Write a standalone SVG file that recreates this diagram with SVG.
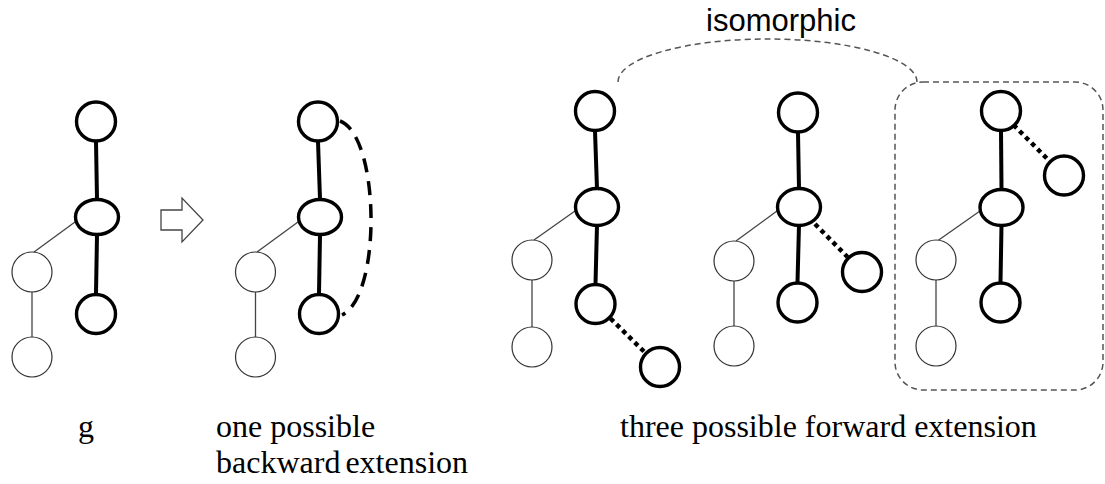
<svg xmlns="http://www.w3.org/2000/svg" width="1105" height="484" viewBox="0 0 1105 484">
  <style>
    .bold { fill: #fff; stroke: #000; stroke-width: 3.4; }
    .thin { fill: #fff; stroke: #333; stroke-width: 1.2; }
    .bedge { stroke: #000; stroke-width: 4; fill: none; }
    .tedge { stroke: #444; stroke-width: 1.3; fill: none; }
    .dotted { stroke: #000; stroke-width: 4.5; stroke-dasharray: 4.5 4; fill: none; }
    .backedge { stroke: #000; stroke-width: 3.5; stroke-dasharray: 14 9; fill: none; }
    .group-line { stroke: #555; stroke-width: 1.5; stroke-dasharray: 6 4; fill: none; }
    .serif { font-family: "Liberation Serif", "Times New Roman", serif; font-size: 32px; fill: #000; }
    .sans { font-family: "Liberation Sans", Arial, sans-serif; font-size: 31px; fill: #000; }
  </style>

  <!-- connectors -->
  <g id="connectors">
    <!-- g -->
    <line class="bedge" x1="96" y1="141.5" x2="97" y2="199"/>
    <line class="bedge" x1="97" y1="235" x2="96" y2="294"/>
    <line class="tedge" x1="75" y1="222" x2="34" y2="252"/>
    <line class="tedge" x1="32" y1="292" x2="32" y2="337"/>

    <!-- backward extension -->
    <line class="bedge" x1="318" y1="141.5" x2="320" y2="199"/>
    <line class="bedge" x1="320" y1="235" x2="319" y2="294"/>
    <line class="tedge" x1="298" y1="222" x2="257" y2="252"/>
    <line class="tedge" x1="255.5" y1="292" x2="255.5" y2="337"/>
    <path class="backedge" d="M 340 121 C 380 136, 382 296, 342 315"/>

    <!-- forward extension 1 -->
    <line class="bedge" x1="595" y1="131" x2="597" y2="189"/>
    <line class="bedge" x1="597" y1="225" x2="595.5" y2="284"/>
    <line class="tedge" x1="575" y1="211" x2="534" y2="240"/>
    <line class="tedge" x1="532" y1="280" x2="532" y2="327"/>
    <line class="dotted" x1="610.5" y1="318.5" x2="645" y2="352.5"/>

    <!-- forward extension 2 -->
    <line class="bedge" x1="798" y1="132.5" x2="799" y2="189"/>
    <line class="bedge" x1="799" y1="225" x2="797.5" y2="282.5"/>
    <line class="tedge" x1="777" y1="211" x2="736" y2="241"/>
    <line class="tedge" x1="734" y1="281" x2="734" y2="326"/>
    <line class="dotted" x1="815" y1="224" x2="847.5" y2="257"/>

    <!-- forward extension 3 -->
    <line class="bedge" x1="1001" y1="131" x2="1001.5" y2="189.5"/>
    <line class="bedge" x1="1001.5" y1="225.5" x2="1000.5" y2="282.5"/>
    <line class="tedge" x1="980" y1="211" x2="938" y2="240.5"/>
    <line class="tedge" x1="936" y1="280" x2="936" y2="326"/>
    <line class="dotted" x1="1013.5" y1="125" x2="1049" y2="160.5"/>

    <!-- isomorphism marker -->
    <path class="group-line" d="M 618 82 A 149.5 43 0 0 1 917 82"/>
    <rect class="group-line" x="895" y="82" width="208" height="308" rx="28" ry="28"/>

    <!-- transformation arrow -->
    <polygon points="161,210 182,210 182,198 203,220 182,242 182,230 161,230" fill="#fff" stroke="#444" stroke-width="1.3"/>
  </g>

  <!-- g -->
  <g id="g-top"><circle class="bold" cx="96" cy="121.5" r="19.5"/></g>
  <g id="g-mid"><ellipse class="bold" cx="97" cy="217" rx="21.5" ry="17.5"/></g>
  <g id="g-bottom"><circle class="bold" cx="96" cy="314" r="19.5"/></g>
  <g id="g-left1"><circle class="thin" cx="32" cy="272" r="20"/></g>
  <g id="g-left2"><circle class="thin" cx="32" cy="357" r="20"/></g>

  <!-- backward extension -->
  <g id="b-top"><circle class="bold" cx="318" cy="121.5" r="19.5"/></g>
  <g id="b-mid"><ellipse class="bold" cx="320" cy="217" rx="21.5" ry="17.5"/></g>
  <g id="b-bottom"><circle class="bold" cx="319" cy="314" r="19.5"/></g>
  <g id="b-left1"><circle class="thin" cx="255.5" cy="272" r="20"/></g>
  <g id="b-left2"><circle class="thin" cx="255.5" cy="357" r="20"/></g>

  <!-- forward extension 1 -->
  <g id="f1-top"><circle class="bold" cx="595" cy="111" r="19.5"/></g>
  <g id="f1-mid"><ellipse class="bold" cx="597" cy="207" rx="21.5" ry="18.5"/></g>
  <g id="f1-bottom"><circle class="bold" cx="595.5" cy="304" r="19.5"/></g>
  <g id="f1-left1"><circle class="thin" cx="532" cy="260" r="20"/></g>
  <g id="f1-left2"><circle class="thin" cx="532" cy="347" r="20"/></g>
  <g id="f1-new"><circle class="bold" cx="660" cy="367" r="19.5"/></g>

  <!-- forward extension 2 -->
  <g id="f2-top"><circle class="bold" cx="798" cy="112.5" r="19.5"/></g>
  <g id="f2-mid"><ellipse class="bold" cx="799" cy="207" rx="21.5" ry="18.5"/></g>
  <g id="f2-bottom"><circle class="bold" cx="797.5" cy="302.5" r="19.5"/></g>
  <g id="f2-left1"><circle class="thin" cx="734" cy="261" r="20"/></g>
  <g id="f2-left2"><circle class="thin" cx="734" cy="346" r="20"/></g>
  <g id="f2-new"><circle class="bold" cx="862" cy="272" r="19.5"/></g>

  <!-- forward extension 3 -->
  <g id="f3-top"><circle class="bold" cx="1001" cy="111" r="19.5"/></g>
  <g id="f3-mid"><ellipse class="bold" cx="1001.5" cy="207.5" rx="21.5" ry="18"/></g>
  <g id="f3-bottom"><circle class="bold" cx="1000.5" cy="302.5" r="19.5"/></g>
  <g id="f3-left1"><circle class="thin" cx="936" cy="260" r="20"/></g>
  <g id="f3-left2"><circle class="thin" cx="936" cy="346" r="20"/></g>
  <g id="f3-new"><circle class="bold" cx="1064" cy="175.5" r="19.5"/></g>

  <!-- labels -->
  <g id="labels">
    <text class="sans" x="706" y="31">isomorphic</text>
    <text class="serif" x="78" y="437">g</text>
    <text class="serif" x="216" y="437">one possible</text>
    <text class="serif" x="216" y="473" word-spacing="-3">backward extension</text>
    <text class="serif" x="620" y="437">three possible forward extension</text>
  </g>
</svg>
